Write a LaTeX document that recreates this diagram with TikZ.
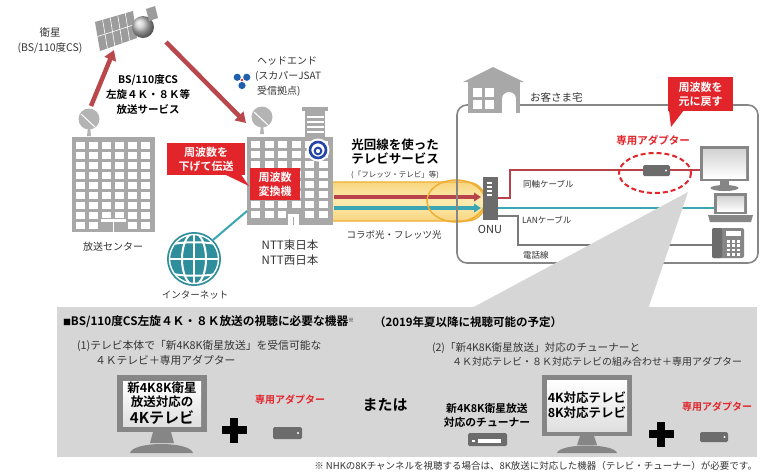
\documentclass[tikz,border=0pt]{standalone}
\usepackage{fontspec}
\setmainfont{Noto Sans CJK JP}[BoldFont={Noto Sans CJK JP Bold}]
\usetikzlibrary{arrows.meta,calc}

\definecolor{txt}{HTML}{333333}
\definecolor{callred}{HTML}{E2252B}
\definecolor{arrred}{HTML}{B9474C}
\definecolor{bldgray}{HTML}{A8A8A8}
\definecolor{dishgray}{HTML}{B4B4B4}
\definecolor{satgray}{HTML}{9C9C9C}
\definecolor{tealline}{HTML}{3AA5B3}
\definecolor{globeteal}{HTML}{2E8E9C}
\definecolor{bandfill}{HTML}{FCEBB0}
\definecolor{bandmid}{HTML}{F8D680}
\definecolor{bandedge}{HTML}{F0AE33}
\definecolor{coax}{HTML}{B8434A}
\definecolor{wire}{HTML}{7A7A7A}
\definecolor{framegray}{HTML}{868686}
\definecolor{panel}{HTML}{D6D6D6}
\definecolor{dev}{HTML}{6C6C6C}
\definecolor{nttblue}{HTML}{2445A8}
\definecolor{jsatblue}{HTML}{1F5FB0}

\newcommand\fz[2]{\fontsize{#1}{#2}\selectfont}
% small parabolic dish: centre x, centre y
\newcommand\satdish[2]{%
  \fill[dishgray] (#1-1,#2+8) -- (#1+1,#2+8) -- (#1+2,#2+17) -- (#1-2,#2+17) -- cycle;
  \fill[dishgray] (#1,#2) circle (10.5);
  \draw[white,line width=1] (#1-8,#2-5) -- (#1+6,#2+8);
}

\begin{document}
\begin{tikzpicture}[x=1pt,y=-1pt,
  every node/.style={inner sep=0pt,outer sep=0pt},
  lbl/.style={text=txt,align=center,font=\fz{10}{15}},
  bold/.style={text=black,align=center,font=\fz{10.5}{15}\bfseries},
  redtag/.style={fill=callred,text=white,align=center,font=\fz{11}{14}\bfseries},
  redtxt/.style={text=callred,font=\fz{10.5}{12}\bfseries},
  arr/.style={draw=arrred,line width=4.5pt,-{Triangle[length=10pt,width=12pt]}},
  bandarr/.style={line width=3.5pt,-{Triangle[length=7pt,width=8.5pt]}},
  pipe/.style={line width=2pt},
]
\useasboundingbox (0,0) rectangle (761,475);
\fill[white] (0,0) rectangle (761,475);

% ---------- satellite ----------
\fill[satgray] (95,22) -- (133,11) -- (137,38) -- (100,51) -- cycle;
\foreach \t in {0.2,0.4,0.6,0.8}
  \draw[white,line width=0.6] ($(95,22)!\t!(133,11)$) -- ($(100,51)!\t!(137,38)$);
\draw[white,line width=0.6] ($(95,22)!0.5!(100,51)$) -- ($(133,11)!0.5!(137,38)$);
\shade[ball color=gray!45] (143,27) circle (11);
\fill[satgray] (146,9) -- (155,6) -- (158,18) -- (149,21) -- cycle;
\node[lbl,font=\fz{10.5}{15}] (satlbl) at (50,40.5) {衛星\\(BS/110度CS)};

% ---------- broadcast centre ----------
\satdish{89}{119}
\fill[bldgray] (72,137) rectangle (155,232);
\foreach \i in {0,...,5}
  \foreach \j in {0,...,8}
    \fill[white] ({76+13*\i},{142+10*\j}) rectangle +(9,6.5);
\fill[bldgray] (101,217.5) rectangle (126,232);
\fill[white] (101,218.5) rectangle (126,221.5);
\fill[white] (112.8,221.5) rectangle (114.4,232);
\node[lbl] (bclbl) at (113,247) {放送センター};

% uplink / downlink
\coordinate (upS) at (91,106);
\coordinate (upE) at (114,50);
\coordinate (dnS) at (166,42);
\coordinate (dnE) at (246,123);
\draw[arr] (upS) -- (upE);
\draw[arr] (dnS) -- (dnE);
\node[bold] (svc) at (148,95) {BS/110度CS\\左旋４Ｋ・８Ｋ等\\放送サービス};

% ---------- head end ----------
\foreach \a in {90,210,330}
  \fill[jsatblue] ($(242,80)+(\a:5.5)$) circle (3.6);
\fill[callred] (242,80) circle (1.3);
\node[lbl,align=left,anchor=west] (headlbl) at (255,77)
  {\hspace*{2pt}ヘッドエンド\\(スカパーJSAT\\\hspace*{2pt}受信拠点)};

\satdish{262}{117}
\fill[bldgray] (302,107) rectangle (328,111);
\fill[bldgray] (305,111) rectangle (325,137);
\foreach \y in {116,121,126,131}
  \fill[white] (306.5,\y) rectangle (323.5,\y+1.6);
\node[fill=bldgray,minimum width=86,minimum height=88] (hed) at (290,181) {};
\foreach \i in {0,...,5}
  \foreach \j in {0,...,7}
    \fill[white] ({251+13.5*\i},{141+10*\j}) rectangle +(9,6.5);
\fill[bldgray] (286,211) rectangle (301,225);
\fill[white] (288,214) rectangle (299,225);
\fill[bldgray] (292.8,217) rectangle (294.2,225);
\fill[white] (318,150) circle (11.5);
\draw[nttblue,line width=2.6] (318,150) circle (8);
\draw[nttblue,line width=2] (318,151) circle (3.3);
\node[redtag,minimum width=50,minimum height=32] (conv) at (275,184) {周波数\\変換機};
\node[lbl,font=\fz{11.5}{15}] (nttlbl) at (290,252.5) {NTT東日本\\NTT西日本};

\node[redtag,minimum width=78,minimum height=32] (tag1) at (206,159) {周波数を\\下げて伝送};
\fill[callred] (225,174.5) -- (241,174.5) -- (249,186) -- cycle;

% ---------- internet ----------
\node[circle,fill=globeteal,minimum size=54] (globe) at (194,259) {};
\begin{scope}
  \clip (194,259) circle (24.5);
  \draw[white,line width=2] (194,230) -- (194,290) (165,259) -- (225,259);
  \draw[white,line width=2] (194,259) ellipse [x radius=12,y radius=26];
  \draw[white,line width=2] (165,246) .. controls (180,241) and (208,241) .. (225,246);
  \draw[white,line width=2] (165,272) .. controls (180,277) and (208,277) .. (225,272);
\end{scope}
\draw[white,line width=1.4] (194,259) circle (24.5);
\draw[tealline,line width=2] (globe.45) -- ([yshift=-30pt]hed.west);
\node[lbl,font=\fz{9.5}{11}] (netlbl) at (195,295) {インターネット};

% ---------- optical line ----------
\shade[top color=bandmid,bottom color=bandmid,middle color=bandfill]
  (333,182) -- (466,182) .. controls (492,182) and (492,221) .. (466,221) -- (333,221) -- cycle;
\draw[bandedge,line width=1.4]
  (333,182) -- (466,182) .. controls (492,182) and (492,221) .. (466,221) -- (333,221);
\coordinate (rS) at (334,197);
\coordinate (rE) at (481,197);
\coordinate (tS) at (334,208);
\coordinate (tE) at (481,208);
\draw[bandarr,draw=coax] (rS) -- (rE);
\draw[bandarr,draw=tealline] (tS) -- (tE);
\draw[bandedge,line width=1.5] (456,201) ellipse [x radius=29,y radius=21];
\node[bold,font=\fz{12.5}{14}\bfseries] (optlbl) at (395,152) {光回線を使った\\テレビサービス};
\node[lbl,font=\fz{7.5}{9}] (fletslbl) at (395,175) {(「フレッツ・テレビ」等)};
\node[lbl,font=\fz{9.5}{11}] (collab) at (394,235) {コラボ光・フレッツ光};

% ---------- customer premises ----------
\draw[framegray,line width=1.6,rounded corners=10] (457,105) rectangle (758,263);
\fill[bldgray] (463,82) -- (493,67) -- (524,82) -- cycle;
\fill[bldgray] (468,80) rectangle (520,113);
\fill[white] (473,88) rectangle (482,97);
\fill[white] (485,88) rectangle (494,97);
\fill[white] (473,100) rectangle (482,109);
\fill[white] (485,100) rectangle (494,109);
\fill[white] (502,99) rectangle (516,113);
\fill[white] (509,99) circle (7);
\node[lbl,anchor=west,font=\fz{10.5}{12}] (homelbl) at (530,97) {お客さま宅};

\node[fill=dev,minimum width=15,minimum height=43] (onu) at (490.5,198.5) {};
\foreach \y in {182,186,190,194}
  \fill[white] (487,\y) rectangle (492,\y+2);
\node[lbl,font=\fz{11}{12}] (onulbl) at (490,229) {ONU};

\coordinate (cxS) at (498,198);
\coordinate (lanS) at (498,207.5);
\coordinate (telS) at (498,216);
\coordinate (tvin) at (701,170);
\coordinate (pcin) at (714,207.5);
\coordinate (telin) at (712,245);
\draw[pipe,draw=coax] (cxS) -| (510,170) -- (tvin);
\draw[pipe,draw=tealline] (lanS) -- (pcin);
\draw[pipe,draw=wire] (telS) -| (518,245) -- (telin);
\node[lbl,anchor=west,font=\fz{8.5}{10}] (coaxlbl) at (523,184) {同軸ケーブル};
\node[lbl,anchor=west,font=\fz{8.5}{10}] (lanlbl) at (522,220) {LANケーブル};
\node[lbl,anchor=west,font=\fz{8.5}{10}] (tellbl) at (523,255) {電話線};

% adapter on the coax line
\fill[dev,rounded corners=1.5] (643,165) rectangle (670,176);
\fill[white] (666,170.5) circle (1.2);
\draw[callred,line width=2,dash pattern=on 5pt off 3pt] (655,173) ellipse [x radius=36,y radius=20];
\node[redtxt] (adlbl) at (653,140) {専用アダプター};
\node[redtag,minimum width=65,minimum height=34] (tag2) at (700.5,94) {周波数を\\元に戻す};
\fill[callred] (669,110) -- (684,110) -- (671,127) -- cycle;

% callout wedge down to the equipment panel
\fill[panel] (688,192) -- (648,309) -- (470,309) -- cycle;

% TV
\fill[framegray] (700,146) rectangle (749,181);
\shade[top color=gray!35,bottom color=white] (703,149) rectangle (746,178);
\fill[framegray] (720,181) rectangle (729,186);
\fill[framegray] (724.5,188) ellipse [x radius=14,y radius=3];
% laptop
\fill[framegray] (714,193) rectangle (747,214);
\shade[top color=gray!35,bottom color=white] (717,196) rectangle (744,211.5);
\fill[framegray] (708,215) -- (753,215) -- (751,222) -- (710,222) -- cycle;
% telephone
\fill[framegray,rounded corners=2] (712,228) rectangle (744,258);
\fill[dev,rounded corners=2] (712,228) rectangle (722,258);
\fill[white] (726,231) rectangle (741,236);
\foreach \i in {0,1,2}
  \foreach \j in {0,1,2,3}
    \fill[white] ({726.5+5*\i},{240+4.3*\j}) rectangle +(3.5,2.8);

% ---------- equipment panel ----------
\fill[panel] (57,307) rectangle (757,457);
\node[anchor=west,font=\fz{11.7}{14}\bfseries] (title) at (63,322)
  {{\fz{8}{10}■}BS/110度CS左旋４Ｋ・８Ｋ放送の視聴に必要な機器\raisebox{3pt}{\fz{6}{7}※}};
\node[anchor=west,font=\fz{11.5}{14}\bfseries] (title2) at (374,322) {（2019年夏以降に視聴可能の予定）};

\node[anchor=west,text=txt,align=left,font=\fz{10.8}{15}] (item1) at (77,352.5)
  {(1)テレビ本体で「新4K8K衛星放送」を受信可能な\\\hspace*{18pt}４Ｋテレビ＋専用アダプター};
\node[anchor=west,text=txt,align=left,font=\fz{10.6}{14}] (item2) at (432,354)
  {(2)「新4K8K衛星放送」対応のチューナーと\\\hspace*{20pt}{\fz{10}{14}４Ｋ対応テレビ・８Ｋ対応テレビの組み合わせ＋専用アダプター}};

% 4K TV
\fill[framegray] (117,375) rectangle (207,432);
\shade[top color=white,bottom color=gray!25] (123,381) rectangle (201,426);
\fill[framegray] (153,432) -- (171,432) -- (174,443) -- (150,443) -- cycle;
\fill[framegray] (130,453) .. controls (133,441) and (190,441) .. (193,453) -- cycle;
\node[align=center,font=\fz{12.5}{14}\bfseries] (tv1a) at (162,395) {新4K8K衛星\\放送対応の};
\node[font=\fz{15}{16}\bfseries] (tv1b) at (162,418) {4Kテレビ};

% plus and adapter
\fill (221.5,426) rectangle (246.5,434);
\fill (230,417.5) rectangle (238,442.5);
\node[redtxt,font=\fz{10}{12}\bfseries] (ad1) at (290,400) {専用アダプター};
\fill[dev,rounded corners=1.5] (273,427) rectangle (302,439);
\fill[white] (298,433) circle (1.2);

\node[font=\fz{15}{16}\bfseries] (mata) at (385,405) {または};

% tuner
\node[align=center,font=\fz{10.8}{14}\bfseries] (tunerlbl) at (487,415) {新4K8K衛星放送\\対応のチューナー};
\fill[dev,rounded corners=1.5] (468,433) rectangle (507,446);
\fill[white] (478,438.5) rectangle (501,442.5);
\fill[white] (471.5,439.5) rectangle (474.5,441.5);

% 4K/8K TV
\fill[framegray] (542,375) rectangle (632,436);
\shade[top color=white,bottom color=gray!25] (547,380) rectangle (627,431);
\fill[framegray] (580,436) -- (594,436) -- (597,445) -- (577,445) -- cycle;
\fill[framegray] (557,453) .. controls (560,443) and (614,443) .. (617,453) -- cycle;
\node[align=center,font=\fz{12.5}{15}\bfseries] (tv2) at (587,405.5) {4K対応テレビ\\8K対応テレビ};

\fill (648.5,430) rectangle (673.5,438);
\fill (657,421.5) rectangle (665,446.5);
\node[redtxt,font=\fz{10}{12}\bfseries] (ad2) at (717,407) {専用アダプター};
\fill[dev,rounded corners=1.5] (700,432) rectangle (728,442);
\fill[white] (724.5,437) circle (1.2);

\node[anchor=east,text=txt,font=\fz{9.5}{11}] (note) at (757,466)
  {※ NHKの8Kチャンネルを視聴する場合は、8K放送に対応した機器（テレビ・チューナー）が必要です。};
\end{tikzpicture}
\end{document}
